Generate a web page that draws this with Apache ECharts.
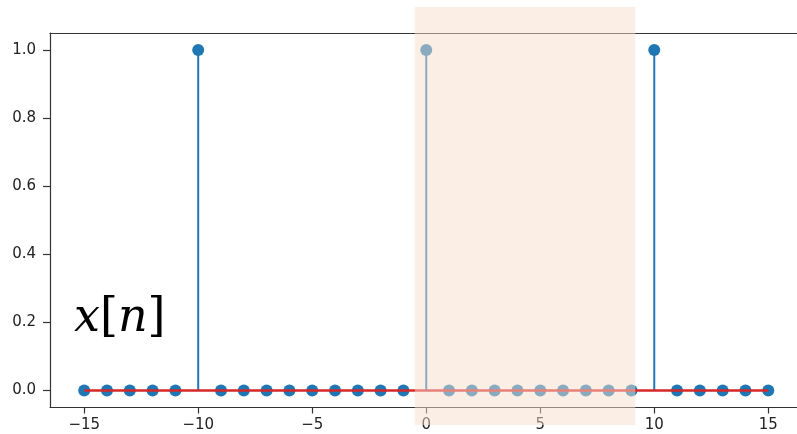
<!DOCTYPE html>
<html>
<head>
<meta charset="utf-8">
<script src="https://cdn.jsdelivr.net/npm/echarts@6/dist/echarts.min.js"></script>
<style>
  html, body { margin: 0; padding: 0; background: #fff; }
  #chart { width: 797px; height: 434px; }
</style>
</head>
<body>
<div id="chart"></div>
<script>
// Periodic impulse train x[n], period 10, sampled on n = -15..15
const nValues = [-15,-14,-13,-12,-11,-10,-9,-8,-7,-6,-5,-4,-3,-2,-1,0,1,2,3,4,5,6,7,8,9,10,11,12,13,14,15];
const xValues = [0,0,0,0,0,1,0,0,0,0,0,0,0,0,0,1,0,0,0,0,0,0,0,0,0,1,0,0,0,0,0];
const xTicks = [-15,-10,-5,0,5,10,15];
const yTicks = [0.0,0.2,0.4,0.6,0.8,1.0];
// one period highlighted (n from 0 to 9)
const periodStart = -0.5;
const periodEnd = 9.17;

const stemBlue = '#1f77b4';
const baseRed = '#d62728';
const spine = '#333';
const pts = nValues.map((n, i) => [n, xValues[i]]);

const chart = echarts.init(document.getElementById('chart'), null, { renderer: 'canvas' });

const labelStyle = { color: '#222', fontFamily: 'DejaVu Sans', fontSize: 15 };

// the right spine falls just past the page edge
const xMin = -16.5;
const xMax = 16.26;

chart.setOption({
  animation: false,
  backgroundColor: '#fff',
  grid: {
    left: 50, top: 33, right: 0, bottom: 26.5,
    show: false
  },
  xAxis: [
    {
      type: 'value', min: xMin, max: xMax,
      splitLine: { show: false },
      axisLine: { show: true, onZero: false, lineStyle: { color: spine, width: 1.2 } },
      axisTick: { show: true, customValues: xTicks, length: 6, lineStyle: { color: spine, width: 1.2 } },
      axisLabel: {
        customValues: xTicks, margin: 10, ...labelStyle,
        formatter: v => String(v).replace('-', '\u2212')
      }
    },
    {
      // top spine
      type: 'value', position: 'top', min: xMin, max: xMax,
      splitLine: { show: false },
      axisLine: { show: true, onZero: false, lineStyle: { color: spine, width: 1.2 } },
      axisTick: { show: false },
      axisLabel: { show: false }
    }
  ],
  yAxis: {
    type: 'value', min: -0.05, max: 1.05,
    splitLine: { show: false },
    axisLine: { show: true, onZero: false, lineStyle: { color: spine, width: 1.2 } },
    axisTick: { show: true, customValues: yTicks, length: 7, lineStyle: { color: spine, width: 1.2 } },
    axisLabel: {
      customValues: yTicks, margin: 14, ...labelStyle,
      formatter: v => Number(v).toFixed(1)
    }
  },
  series: [
    {
      // stems from the baseline up to each sample
      type: 'custom',
      data: pts,
      z: 2,
      renderItem: (params, api) => {
        const top = api.coord([api.value(0), api.value(1)]);
        const base = api.coord([api.value(0), 0]);
        return {
          type: 'line',
          shape: { x1: top[0], y1: top[1], x2: base[0], y2: base[1] },
          style: { stroke: stemBlue, lineWidth: 2 }
        };
      }
    },
    {
      // sample markers
      type: 'scatter',
      data: pts,
      symbol: 'circle',
      symbolSize: 12,
      itemStyle: { color: stemBlue, opacity: 1 },
      z: 3
    },
    {
      // red baseline
      type: 'line',
      data: [[nValues[0], 0], [nValues[nValues.length - 1], 0]],
      symbol: 'none',
      lineStyle: { color: baseRed, width: 2.4 },
      z: 4
    }
  ]
});

const xl = chart.convertToPixel({ xAxisIndex: 0 }, periodStart);
const xr = chart.convertToPixel({ xAxisIndex: 0 }, periodEnd);

chart.setOption({
  graphic: [
    {
      type: 'rect',
      z: 100,
      shape: { x: xl, y: 7, width: xr - xl, height: 418 },
      style: { fill: 'rgba(245,221,203,0.5)' }
    },
    {
      type: 'text',
      z: 101,
      left: 74,
      top: 296,
      style: {
        text: '{i|x}{r|[}{i|n}{r|]}',
        rich: {
          i: { fontFamily: 'DejaVu Serif', fontStyle: 'italic', fontSize: 46, fill: '#000' },
          r: { fontFamily: 'DejaVu Serif', fontSize: 46, fill: '#000' }
        }
      }
    }
  ]
});
</script>
</body>
</html>
